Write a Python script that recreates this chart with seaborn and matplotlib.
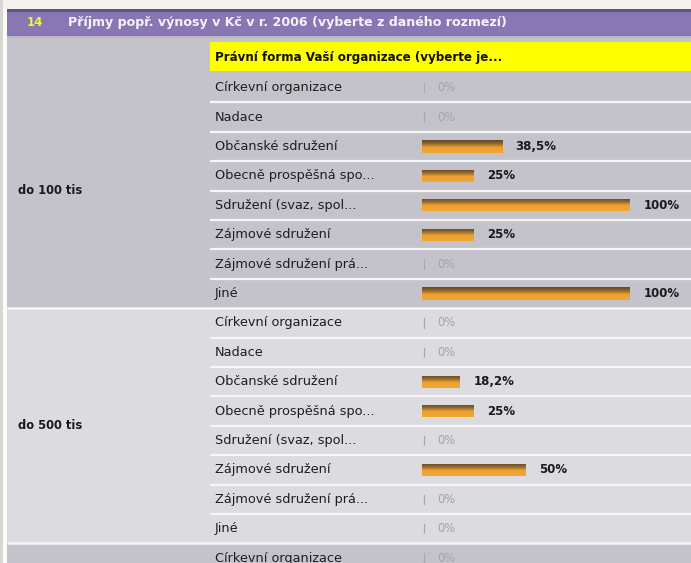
import numpy as np
import pandas as pd
import matplotlib
matplotlib.use("Agg")
import matplotlib.pyplot as plt
from matplotlib.patches import Rectangle
from matplotlib.colors import LinearSegmentedColormap
import seaborn as sns

# ---------------- data ----------------
question_no = "14"
title = "Příjmy popř. výnosy v Kč v r. 2006 (vyberte z daného rozmezí)"
column_header = "Právní forma Vaší organizace (vyberte je..."
group_labels = ["do 100 tis", "do 500 tis", ""]
categories = ["Církevní organizace", "Nadace", "Občanské sdružení",
              "Obecně prospěšná spo...", "Sdružení (svaz, spol...",
              "Zájmové sdružení", "Zájmové sdružení prá...", "Jiné"]
values_100 = [0, 0, 38.5, 25, 100, 25, 0, 100]
labels_100 = ["0%", "0%", "38,5%", "25%", "100%", "25%", "0%", "100%"]
values_500 = [0, 0, 18.2, 25, 0, 50, 0, 0]
labels_500 = ["0%", "0%", "18,2%", "25%", "0%", "50%", "0%", "0%"]
values_next = [0]          # third group, only first row visible
labels_next = ["0%"]

# ---------------- table ----------------
rows_cat, rows_val, rows_lab, rows_grp = [], [], [], []
for g, (vals, labs) in enumerate([(values_100, labels_100),
                                  (values_500, labels_500),
                                  (values_next, labels_next)]):
    for i, (v, l) in enumerate(zip(vals, labs)):
        rows_cat.append(categories[i])
        rows_val.append(v)
        rows_lab.append(l)
        rows_grp.append(g)
df = pd.DataFrame({"row": np.arange(len(rows_cat)), "category": rows_cat,
                   "value": rows_val, "label": rows_lab, "group": rows_grp})

# ---------------- layout helpers (pixel -> data) ----------------
W, H = 691, 563
BAR0, PXPCT = 422, 2.08
ROW0, ROWH = 73, 29.4


def X(p):
    return (p - BAR0) / PXPCT


def Y(p):
    return -0.5 + (p - ROW0) / ROWH


sns.set_theme(style="white")
plt.rcParams["font.family"] = ["DejaVu Sans"]

fig = plt.figure(figsize=(W / 100, H / 100), dpi=100, facecolor="#f3f2ef")
ax = fig.add_axes([0, 0, 1, 1])
ax.set_facecolor("none")

xl, xr = X(0), X(W)
yt, yb = Y(0), Y(H)

# page background decorations
ax.add_patch(Rectangle((xl, yt), X(3) - xl, yb - yt, color="#d9d7d1", lw=0, zorder=0.1))
ax.add_patch(Rectangle((X(3), Y(8)), X(7) - X(3), yb - Y(8), color="#fbfbfa", lw=0, zorder=0.1))

# purple title bar
ax.add_patch(Rectangle((X(7), Y(9)), xr - X(7), Y(36) - Y(9), color="#8877b3", lw=0, zorder=0.2))
ax.add_patch(Rectangle((X(7), Y(9)), xr - X(7), Y(12) - Y(9), color="#5f5486", lw=0, zorder=0.25))
# grey area below title
ax.add_patch(Rectangle((X(7), Y(36)), xr - X(7), Y(ROW0) - Y(36), color="#c4c3cc", lw=0, zorder=0.2))
ax.add_patch(Rectangle((X(7), Y(36)), xr - X(7), Y(38) - Y(36), color="#b9b7c7", lw=0, zorder=0.25))
# yellow column header
ax.add_patch(Rectangle((X(210), Y(42)), xr - X(210), Y(71) - Y(42), color="#ffff00", lw=0, zorder=0.3))

# group backgrounds
group_bg = ["#c4c3cc", "#dcdce0", "#c4c3cc"]
n_per = len(categories)
for g in range(3):
    top = g * n_per - 0.5
    ax.add_patch(Rectangle((X(7), top), xr - X(7), n_per, color=group_bg[g], lw=0, zorder=0.2))

# row separators
for r in range(1, len(df) + 8):
    yy = r - 0.5
    if r % n_per == 0:
        ax.plot([X(7), xr], [yy, yy], color="#f6f6f8", lw=1.8, zorder=0.4, solid_capstyle="butt")
    else:
        ax.plot([X(210), xr], [yy, yy], color="#f6f6f8", lw=1.6, zorder=0.4, solid_capstyle="butt")

# ---------------- bars ----------------
sns.barplot(data=df, x="value", y="row", orient="y", native_scale=True,
            width=0.41, color="#eea02e", errorbar=None, ax=ax,
            linewidth=0, saturation=1)

grad_cmap = LinearSegmentedColormap.from_list(
    "bar", [(0, "#5e4628"), (0.3, "#966a2c"), (0.55, "#eba030"), (1, "#f3a834")])
grad = np.linspace(0, 1, 64).reshape(-1, 1)
for p in list(ax.patches):
    if p.get_zorder() > 0.5 and p.get_width() > 0 and p.get_facecolor()[0] > 0.8:
        x0, y0 = p.get_x(), p.get_y()
        w, h = p.get_width(), p.get_height()
        im = ax.imshow(grad, cmap=grad_cmap, aspect="auto", interpolation="bilinear",
                       extent=[x0, x0 + w, y0 + h, y0], zorder=2)
        im.set_clip_path(p)

# ---------------- texts ----------------
for _, r in df.iterrows():
    ax.text(X(215), r["row"], r["category"], va="center", ha="left",
            fontsize=9.3, color="#1e1e1e", zorder=5)
    if r["value"] > 0:
        ax.text(r["value"] + 6.5, r["row"], r["label"], va="center", ha="left",
                fontsize=8.5, fontweight="bold", color="#1a1a1a", zorder=5)
    else:
        ax.plot([X(423.5), X(423.5)], [r["row"] - 0.16, r["row"] + 0.16],
                color="#a9a9ad", lw=0.9, zorder=5)
        ax.text(X(437), r["row"], r["label"], va="center", ha="left",
                fontsize=8.3, color="#a4a4a8", zorder=5)

for g, lab in enumerate(group_labels):
    if lab:
        ax.text(X(18), g * n_per + (n_per - 1) / 2, lab, va="center", ha="left",
                fontsize=8.3, fontweight="bold", color="#1a1a1a", zorder=5)

ax.text(X(27), Y(22.5), question_no, va="center", ha="left", fontsize=8.5,
        fontweight="bold", color="#f2f23a", zorder=5)
ax.text(X(68), Y(22.5), title, va="center", ha="left", fontsize=9.1,
        fontweight="bold", color="#f4f2fa", zorder=5)
ax.text(X(215), Y(57), column_header, va="center", ha="left", fontsize=8.6,
        fontweight="bold", color="#111111", zorder=5)

ax.set_xlim(xl, xr)
ax.set_ylim(yb, yt)
ax.set_axis_off()

fig.savefig("out.png", dpi=100, facecolor=fig.get_facecolor())
